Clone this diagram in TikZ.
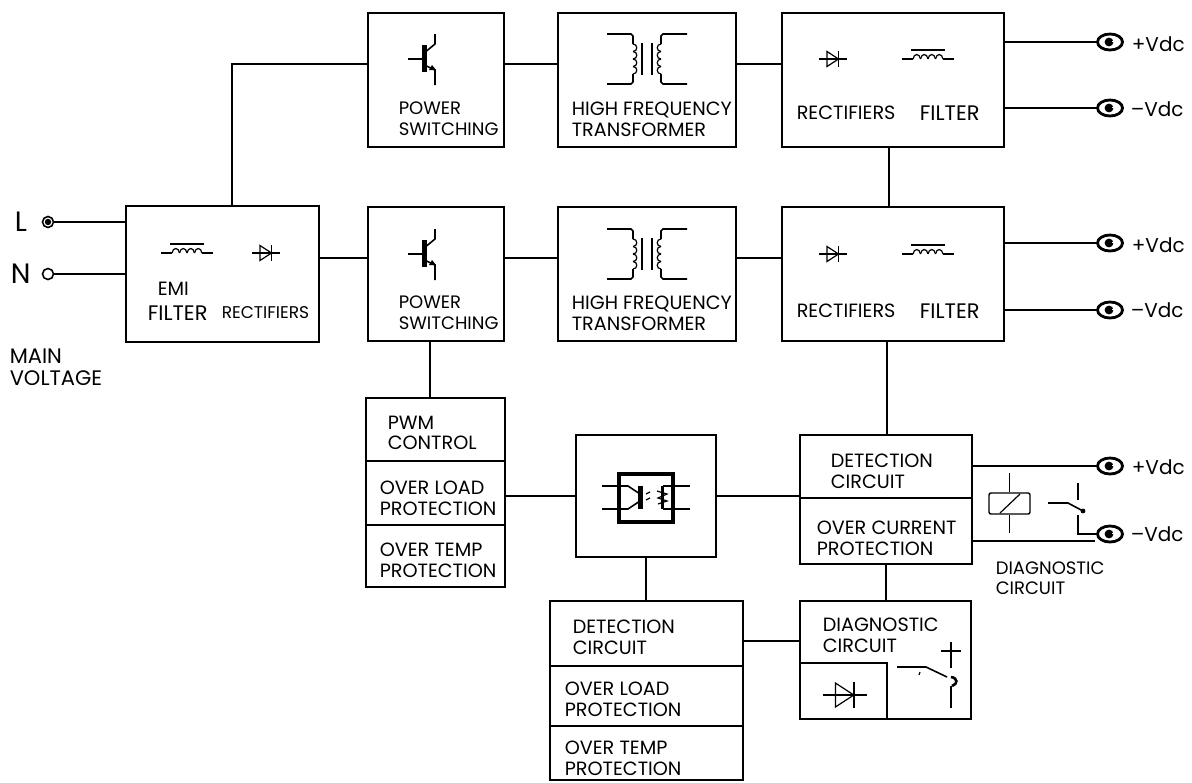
\documentclass[tikz,border=0pt]{standalone}
\usepackage{fontspec}
\usetikzlibrary{shapes.geometric}
\setmainfont{Poppins}
\tikzset{
    blockbox/.style={draw, thick, rectangle, inner sep=0pt, outer sep=0pt},
    lbl/.style={anchor=west, align=left, inner sep=0pt, yshift=-0.5pt, font=\fontsize{9.6}{10.3}\selectfont},
    smalllbl/.style={lbl, font=\fontsize{9}{10.3}\selectfont},
    biglbl/.style={lbl, font=\fontsize{10.5}{10.8}\selectfont},
    vlbl/.style={anchor=west, inner sep=0pt, font=\fontsize{10}{12}\selectfont},
    inlbl/.style={anchor=west, inner sep=0pt, font=\fontsize{14}{16}\selectfont},
    terminal/.style={draw, ellipse, line width=1.4pt, minimum width=12.5pt, minimum height=8pt, inner sep=0pt, outer sep=0pt,
        path picture={\fill ([xshift=-0.5pt]path picture bounding box.center) circle (2.2pt);
            \fill[white] ([xshift=0.8pt]path picture bounding box.center) rectangle ++(2pt,0.3pt);}},
    lineterm/.style={draw, circle, line width=0.8pt, minimum size=5.5pt, inner sep=0pt, outer sep=0pt},
    fine/.style={line width=0.6pt},
    pics/transistor/.style={code={
        \fill (-6,-14) rectangle (-1.5,13);
        \draw (-20,0) -- (-6,0);
        \draw (-1.5,-8) -- (7,-15) -- (7,-25);
        \draw (-1.5,7) -- (7,11) -- (7,26);
        \fill (1,11) -- (4,6) -- (8,11) -- cycle;
    }},
    pics/transformer/.style={code={
        \foreach \side in {1,-1} {
            \begin{scope}[xscale=\side]
                \draw (-5,-16) -- (-5,16);
                \draw (-40,-25) -- (-16,-25) -- (-14,-23) -- (-14,-15);
                \draw (-40,25) -- (-16,25) -- (-14,23) -- (-14,15);
                \foreach \k in {0,1,2,3}
                    \draw[fine] (-14,-15+7.5*\k) .. controls (-9,-15+7.5*\k) and (-9,-7.5+7.5*\k) .. (-14,-7.5+7.5*\k);
            \end{scope}
        }
    }},
    pics/diode/.style={code={
        \draw[fine] (-14,0) -- (14,0);
        \draw[fine] (-6,-7.5) -- (5.5,0) -- (-6,7.5) -- cycle;
        \draw (5.5,-8) -- (5.5,8);
    }},
    pics/inductor/.style={code={
        \draw[fine] (-26,0) -- (-15,0);
        \draw[fine] (15,0) -- (26,0);
        \draw[fine] (-17,-9) -- (17,-9);
        \foreach \k in {0,1,2,3}
            \draw[fine] (-15+7.5*\k,0) .. controls (-14+7.5*\k,-6) and (-8.5+7.5*\k,-6) .. (-7.5+7.5*\k,0);
    }},
}
\begin{document}
\begin{tikzpicture}[x=0.5pt, y=-0.5pt, thick]
    \useasboundingbox (0,0) rectangle (1192,782);
    % upper and lower converter rows
    \foreach \row/\cy/\ry/\py/\fy/\sy/\tp/\tm/\lp/\lm in {A/80/64/108/112/59/42/108/44/109, B/274/258/302/310/254/243/310/245/310} {
        \node[blockbox, minimum width=68pt, minimum height=67pt] (power\row) at (436,\cy) {};
        \node[blockbox, minimum width=89pt, minimum height=67pt] (freq\row) at (647,\cy) {};
        \node[blockbox, minimum width=111pt, minimum height=67pt] (rect\row) at (893,\cy) {};
        \coordinate (row\row) at (0,\ry);
        \pic at (428,\sy) {transistor};
        \pic at (647,\sy) {transformer};
        \pic at (833,\sy) {diode};
        \pic at (928,\sy) {inductor};
        \node[smalllbl] (powerText\row) at (398,\py+10) {POWER\\SWITCHING};
        \node[lbl] (freqText\row) at (571,\py+10) {HIGH FREQUENCY\\TRANSFORMER};
        \node[lbl] (rectText\row) at (796,\fy) {RECTIFIERS};
        \node[biglbl] (filterText\row) at (919,\fy) {FILTER};
        \node[terminal] (plus\row) at (1110,\tp) {};
        \node[terminal] (minus\row) at (1110,\tm) {};
        \node[vlbl] (plusText\row) at (1131,\lp) {+Vdc};
        \node[vlbl] (minusText\row) at (1130,\lm) {–Vdc};
        \draw (power\row.east |- row\row) -- (freq\row.west |- row\row);
        \draw (freq\row.east |- row\row) -- (rect\row.west |- row\row);
        \draw (rect\row.east |- plus\row) -- (plus\row);
        \draw (rect\row.east |- minus\row) -- (minus\row);
    }
    % mains input
    \node[blockbox, minimum width=96.5pt, minimum height=68pt] (emi) at (222.5,274) {};
    \pic at (187,253) {inductor};
    \pic at (266,253) {diode};
    \node[lbl] (emiText) at (157,288) {EMI};
    \node[biglbl] (emiFilter) at (147,312) {FILTER};
    \node[lbl, font=\fontsize{8.5}{10}\selectfont] (emiRect) at (221,312) {RECTIFIERS};
    \node[lineterm] (lineL) at (48,222) {};
    \node[lineterm] (lineN) at (48,274) {};
    \fill (lineL) circle (1.6pt);
    \node[inlbl] (textL) at (14,222) {L};
    \node[inlbl] (textN) at (10,274) {N};
    \node[biglbl] (mainText) at (9,366) {MAIN\\VOLTAGE};
    \draw (lineL) -- (lineL -| emi.west);
    \draw (lineN) -- (lineN -| emi.west);
    \coordinate (tapEmi) at (232,64);
    \draw (tapEmi |- emi.north) -- (tapEmi) -- (tapEmi -| powerA.west);
    \draw (emi.east |- rowB) -- (powerB.west |- rowB);
    \coordinate (tapRect) at (889,180);
    \draw (tapRect |- rectA.south) -- (tapRect |- rectB.north);
    % control stack
    \node[blockbox, minimum width=69.5pt, minimum height=31.5pt] (pwmBox) at (435.5,429.5) {};
    \node[blockbox, minimum width=69.5pt, minimum height=32pt] (loadBox) at (435.5,493) {};
    \node[blockbox, minimum width=69.5pt, minimum height=31pt] (tempBox) at (435.5,556) {};
    \node[lbl] (pwmText) at (387,432) {PWM\\CONTROL};
    \node[lbl] (loadText) at (379,497) {OVER LOAD\\PROTECTION};
    \node[lbl] (tempText) at (379,559) {OVER TEMP\\PROTECTION};
    \coordinate (tapPwm) at (430,370);
    \draw (tapPwm |- powerB.south) -- (tapPwm |- pwmBox.north);
    % optocoupler
    \node[blockbox, minimum width=70pt, minimum height=61pt] (opto) at (646,496) {};
    \node[draw, line width=1.7pt, inner sep=0pt, minimum width=27pt, minimum height=24pt] (optoCore) at (646,498) {};
    \draw (602,486) -- (628,486) -- (640,494);
    \draw (602,509) -- (628,509) -- (640,501);
    \fill (638,486) rectangle (643,509);
    \fill (661,486) rectangle (664,509);
    \draw (663,486) -- (690,486);
    \draw (663,509) -- (690,509);
    \draw[fine] (646,494) -- (650,492) (646,500) -- (650,498);
    \draw[fine] (657,491) -- (667,494) -- (658,498) -- (667,501) -- (658,504);
    % detection block
    \node[blockbox, minimum width=86pt, minimum height=31.5pt] (detBox) at (886,466.5) {};
    \node[blockbox, minimum width=86pt, minimum height=33pt] (curBox) at (886,531) {};
    \node[lbl] (detText) at (830,470) {DETECTION\\CIRCUIT};
    \node[lbl] (curText) at (816,537) {OVER CURRENT\\PROTECTION};
    \coordinate (tapDet) at (887,380);
    \draw (tapDet |- rectB.south) -- (tapDet |- detBox.north);
    \coordinate (rowOpto) at (0,496);
    \draw (loadBox.east |- rowOpto) -- (opto.west |- rowOpto);
    \draw (opto.east |- rowOpto) -- (detBox.west |- rowOpto);
    % relay output
    \node[terminal] (plusC) at (1110,466) {};
    \node[terminal] (minusC) at (1110,534) {};
    \node[vlbl] (plusTextC) at (1131,467) {+Vdc};
    \node[vlbl] (minusTextC) at (1130,534) {–Vdc};
    \draw (detBox.east |- plusC) -- (plusC);
    \coordinate (lowEnd) at (1095,541);
    \draw (curBox.east |- lowEnd) -- (lowEnd);
    \node[draw, line width=0.7pt, inner sep=0pt, rounded corners=1pt, minimum width=20.5pt, minimum height=10.5pt] (relayCoil) at (1009.5,503.5) {};
    \draw (relayCoil.north) -- ++(0,-19);
    \draw (relayCoil.south) -- ++(0,18);
    \draw[fine] (1000,513) -- (1020,494);
    \draw (1048,503) -- (1068,503) -- (1083,511);
    \fill (1083,511) circle (1.2pt);
    \draw (1078,483) -- (1078,500);
    \draw (1078,515) |- (minusC);
    \node[smalllbl] (diagNote) at (995,577) {DIAGNOSTIC\\CIRCUIT};
    % bottom blocks
    \node[blockbox, minimum width=96.5pt, minimum height=32.5pt] (detTwo) at (646.5,633.5) {};
    \node[blockbox, minimum width=96.5pt, minimum height=30pt] (loadTwo) at (646.5,696) {};
    \node[blockbox, minimum width=96.5pt, minimum height=27pt] (tempTwo) at (646.5,753) {};
    \node[lbl] (detTwoText) at (572,636) {DETECTION\\CIRCUIT};
    \node[lbl] (loadTwoText) at (564,698) {OVER LOAD\\PROTECTION};
    \node[lbl] (tempTwoText) at (564,757) {OVER TEMP\\PROTECTION};
    \node[blockbox, minimum width=85.5pt, minimum height=59pt] (diagBox) at (885.5,660) {};
    \node[lbl] (diagText) at (822,634) {DIAGNOSTIC\\CIRCUIT};
    \coordinate (diagCorner) at (887,663);
    \draw (diagBox.west |- diagCorner) -- (diagCorner) -- (diagCorner |- diagBox.south);
    \pic[scale=1.6] at (845,695) {diode};
    \draw (897,667) -- (926,667) -- (947,677);
    \draw[fine] (920,672) -- (919,675);
    \draw (941,651) -- (961,651);
    \draw (951,642) -- (951,668);
    \draw[line width=1.3pt] (951,677) .. controls (958,678) and (958,684) .. (952,686);
    \draw (951,686) -- (951,708);
    \coordinate (tapOpto) at (646,580);
    \draw (tapOpto |- opto.south) -- (tapOpto |- detTwo.north);
    \coordinate (tapDiag) at (886,580);
    \draw (tapDiag |- curBox.south) -- (tapDiag |- diagBox.north);
    \coordinate (rowDiag) at (0,641);
    \draw (detTwo.east |- rowDiag) -- (diagBox.west |- rowDiag);
\end{tikzpicture}
\end{document}
